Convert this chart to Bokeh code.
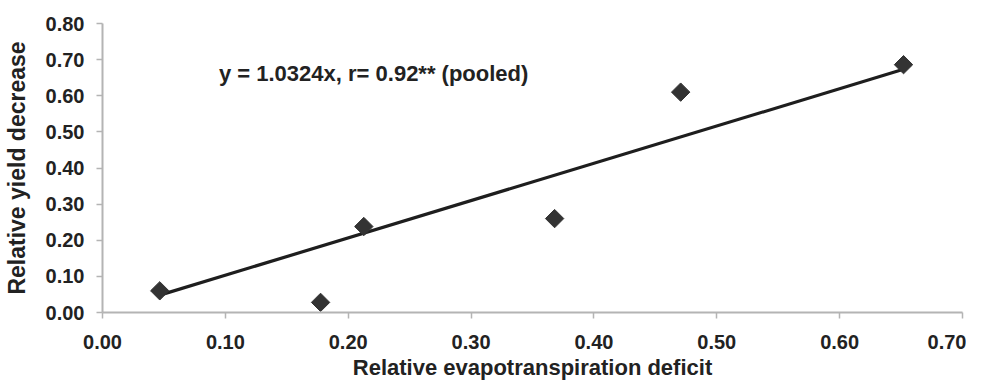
import math
from bokeh.plotting import figure
from bokeh.models import ColumnDataSource, FixedTicker, Range1d
from bokeh.core.properties import value
from bokeh.embed import file_html
from bokeh.resources import INLINE

# Data
et_deficit = [0.0466, 0.1775, 0.2127, 0.368, 0.4706, 0.652]
yield_decrease = [0.060, 0.028, 0.238, 0.260, 0.610, 0.686]
slope = 1.0324
fit_x = [0.046, 0.650]
fit_y = [slope * v for v in fit_x]
x_ticks = [0.0, 0.1, 0.2, 0.3, 0.4, 0.5, 0.6, 0.7]
y_ticks = [0.0, 0.1, 0.2, 0.3, 0.4, 0.5, 0.6, 0.7, 0.8]
equation = "y = 1.0324x, r= 0.92** (pooled)"
x_title = "Relative evapotranspiration deficit"
y_title = "Relative yield decrease"

FONT = "Liberation Sans"
TXT = "#222222"
AX = "#b4b4b4"

p = figure(width=966, height=383, output_backend="svg", toolbar_location=None,
           x_range=Range1d(0, 0.7), y_range=Range1d(0, 0.8),
           min_border_left=100, min_border_right=4, min_border_top=23,
           min_border_bottom=71)
p.outline_line_color = None
p.grid.visible = False

for ax in (p.xaxis[0], p.yaxis[0]):
    ax.axis_line_color = AX
    ax.axis_line_width = 2
    ax.major_tick_line_color = AX
    ax.major_tick_line_width = 1.5
    ax.major_tick_in = 0
    ax.major_tick_out = 6
    ax.minor_tick_line_color = None
    ax.major_label_text_font = FONT
    ax.major_label_text_font_style = "bold"
    ax.major_label_text_font_size = "20px"
    ax.major_label_text_color = TXT
    ax.axis_label_text_font = FONT
    ax.axis_label_text_font_style = "bold"
    ax.axis_label_text_color = TXT

p.xaxis.axis_label_text_font_size = "22px"
p.yaxis.axis_label_text_font_size = "23px"
p.xaxis.ticker = FixedTicker(ticks=x_ticks)
p.yaxis.ticker = FixedTicker(ticks=y_ticks)
p.xaxis.major_label_overrides = {t: f"{t:.2f}" for t in x_ticks}
p.yaxis.major_label_overrides = {t: f"{t:.2f}" for t in y_ticks}
p.xaxis.axis_label = x_title
p.yaxis.axis_label = y_title
p.xaxis.major_label_standoff = 16
p.xaxis.axis_label_standoff = 3
p.yaxis.major_label_standoff = 12
p.yaxis.axis_label_standoff = 13

p.line(fit_x, fit_y, line_color="#1e1e1e", line_width=3.2)

src = ColumnDataSource(dict(x=et_deficit, y=yield_decrease))
p.scatter("x", "y", source=src, marker="square", size=13, angle=math.pi / 4,
          fill_color="#333333", line_color="#333333")

p.text(x=[0.0948], y=[0.662], text=[equation], text_font=value(FONT),
       text_font_style="bold", text_font_size="22px", text_color=TXT,
       text_align="left", text_baseline="middle")

open("out.html", "w").write(file_html(p, INLINE))
